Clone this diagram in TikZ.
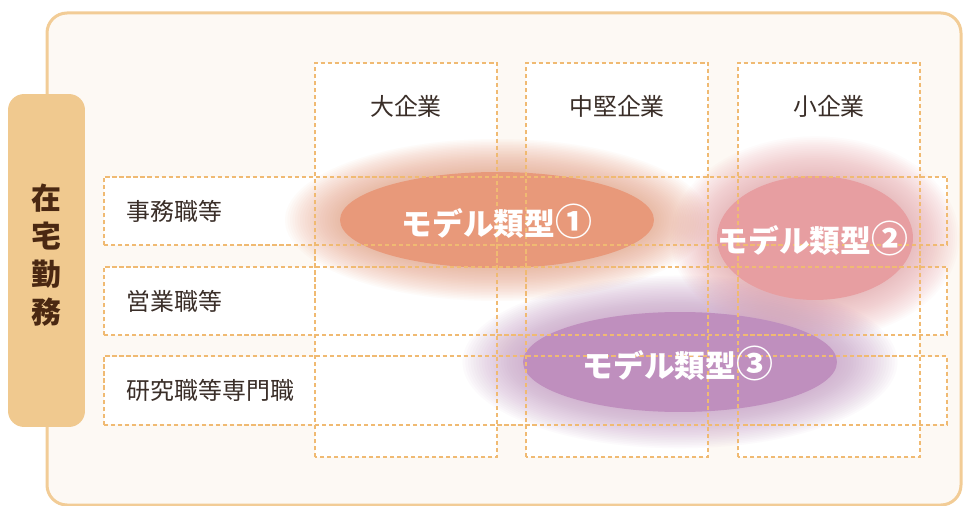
\documentclass[tikz,border=0pt]{standalone}
\usepackage{fontspec}
\setmainfont{Noto Sans CJK JP}
\usetikzlibrary{shapes,positioning,calc}
\definecolor{panelline}{HTML}{F2CC96}
\definecolor{panelfill}{HTML}{FDF9F4}
\definecolor{tabfill}{HTML}{F0C98F}
\definecolor{tabtext}{HTML}{4A2812}
\definecolor{gridline}{HTML}{F0BA72}
\definecolor{labeltext}{HTML}{3A2E28}
\definecolor{typeone}{HTML}{E8997A}
\definecolor{typetwo}{HTML}{E79EA1}
\definecolor{typethree}{HTML}{BF8FBE}
\newcommand{\bignum}[1]{{\fontsize{21}{20}\selectfont #1}}

\begin{document}
\begin{tikzpicture}[x=0.02cm, y=-0.02cm,
    cell/.style={rectangle, fill=white, inner sep=0pt},
    grid/.style={draw=gridline, dash pattern=on 2.4pt off 1.6pt, line width=1pt},
    head/.style={font=\fontsize{13.6}{16}\selectfont, text=labeltext},
    model/.style={ellipse, inner sep=0pt},
    modeltext/.style={font=\fontsize{17.5}{20}\selectfont\bfseries, text=white}]
    \useasboundingbox (0,0) rectangle (963,506);

    % panel and tab
    \draw[panelline, fill=panelfill, line width=0.06cm, rounded corners=0.4cm] (47,13) rectangle (961,505);
    \node[rectangle, rounded corners=0.32cm, fill=tabfill, minimum width=1.54cm, minimum height=6.66cm] (tab) at (46.5,260.5) {};
    \node[font=\fontsize{17}{21.7}\selectfont\bfseries, text=tabtext, align=center] (tablabel) at (46,255) {在\\宅\\勤\\務};

    % columns and rows
    \node[cell, minimum width=3.64cm, minimum height=7.88cm] (large) at (406,260) {};
    \node[cell, minimum width=3.64cm, minimum height=7.88cm] (mid) at (617,260) {};
    \node[cell, minimum width=3.64cm, minimum height=7.88cm] (small) at (829,260) {};
    \node[cell, minimum width=16.86cm, minimum height=1.36cm] (office) at (525.5,211) {};
    \node[cell, minimum width=16.86cm, minimum height=1.36cm] (sales) at (525.5,301) {};
    \node[cell, minimum width=16.86cm, minimum height=1.36cm] (research) at (525.5,390.5) {};

    % glows
    \foreach \k in {1,...,22} {
        \fill[typeone, opacity=0.04] (497,220) ellipse [x radius={(3.14+0.05*\k)*1cm}, y radius={(0.96+0.03*\k)*1cm}];
        \fill[typetwo, opacity=0.04] (815,238) ellipse [x radius={(1.96+0.042*\k)*1cm}, y radius={(1.24+0.036*\k)*1cm}];
        \fill[typethree, opacity=0.04] (680,362) ellipse [x radius={(3.14+0.055*\k)*1cm}, y radius={(1.0+0.033*\k)*1cm}];
    }

    \node[model, fill=typeone, minimum width=6.28cm, minimum height=1.92cm] (typeA) at (497,220) {};
    \node[model, fill=typetwo, minimum width=3.92cm, minimum height=2.48cm] (typeB) at (815,238) {};
    \node[model, fill=typethree, minimum width=6.28cm, minimum height=2.0cm] (typeC) at (680,362) {};

    % dashed borders
    \foreach \c in {large,mid,small,office,sales,research}
        \draw[grid] (\c.south west) rectangle (\c.north east);

    % labels
    \node[modeltext] (typeAlabel) at ($(typeA.center)+(0,1)$) {モデル類型\bignum{①}};
    \node[modeltext] (typeBlabel) at ($(typeB.center)+(-2,0)$) {モデル類型\bignum{②}};
    \node[modeltext] (typeClabel) at ($(typeC.center)+(-2,1)$) {モデル類型\bignum{③}};
    \node[head] (largelabel) at ($(large.north)+(0,44)$) {大企業};
    \node[head] (midlabel) at ($(mid.north)+(0,44)$) {中堅企業};
    \node[head] (smalllabel) at ($(small.north)+(0,44)$) {小企業};
    \node[head, anchor=west] (officelabel) at ($(office.west)+(17,0)$) {事務職等};
    \node[head, anchor=west] (saleslabel) at ($(sales.west)+(17,0)$) {営業職等};
    \node[head, anchor=west] (researchlabel) at ($(research.west)+(17,0)$) {研究職等専門職};
\end{tikzpicture}
\end{document}
